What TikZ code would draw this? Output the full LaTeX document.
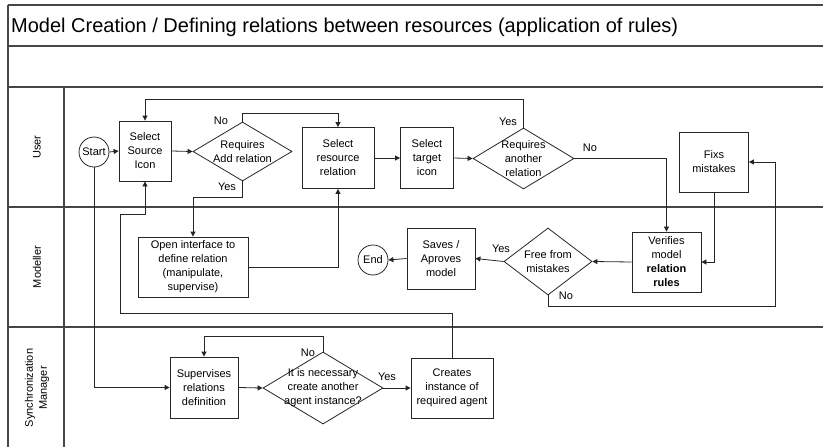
\documentclass[tikz,border=0pt]{standalone}
\usepackage{fontspec}
\setmainfont{Liberation Sans}
\usetikzlibrary{arrows.meta,shapes.geometric}

\begin{document}
\begin{tikzpicture}[x=1pt,y=-1pt,
  font=\fontsize{11}{14}\selectfont,
  lane/.style={draw=black!72, line width=1.3pt},
  procbox/.style={draw=black!85, line width=0.8pt, rectangle, align=center, inner sep=0pt},
  decision/.style={draw=black!85, line width=0.8pt, diamond, inner sep=0pt},
  terminal/.style={draw=black!85, line width=0.8pt, circle, inner sep=0pt, minimum size=30pt},
  flow/.style={draw=black!85, line width=0.8pt, -{Triangle[length=5pt,width=5pt]}},
  tag/.style={inner sep=0pt},
  lanename/.style={rotate=90, align=center, inner sep=0pt}
]
\useasboundingbox (0,0) rectangle (823,447);

% swimlane frame
\draw[lane] (8,5) -- (823,5);
\draw[lane] (8,46) -- (823,46);
\draw[lane] (8,87) -- (823,87);
\draw[lane] (8,207) -- (823,207);
\draw[lane] (8,327) -- (823,327);
\draw[lane] (8,5) -- (8,447);
\draw[lane] (64,87) -- (64,447);

\node[anchor=west, inner sep=0pt, font=\fontsize{20}{24}\selectfont] (title) at (11,27)
  {Model Creation / Defining relations between resources (application of rules)};

\node[lanename] (lUser) at (37,147) {User};
\node[lanename] (lMod) at (37,267) {Modeller};
\node[lanename] (lSync) at (37,388) {Synchronization\\Manager};

% User lane
\node[terminal] (start) at (94,152) {Start};
\node[procbox, minimum width=52pt, minimum height=60pt] (src) at (145,151) {Select\\Source\\Icon};
\node[decision, minimum width=99pt, minimum height=59pt,
  label={[align=center]center:Requires\\Add relation}] (req) at (242.5,151.5) {};
\node[procbox, minimum width=72pt, minimum height=61pt] (res) at (338,158) {Select\\resource\\relation};
\node[procbox, minimum width=53pt, minimum height=61pt] (tgt) at (427,158) {Select\\target\\icon};
\node[decision, minimum width=101pt, minimum height=61pt,
  label={[align=center]center:Requires\\another\\relation}] (ano) at (523.5,158.5) {};
\node[procbox, minimum width=69pt, minimum height=60pt] (fix) at (714,162) {Fixs\\mistakes};

% Modeller lane
\node[procbox, minimum width=110pt, minimum height=60pt] (open) at (193,267)
  {Open interface to\\define relation\\(manipulate,\\supervise)};
\node[terminal] (end) at (373,260) {End};
\node[procbox, minimum width=68pt, minimum height=61pt] (save) at (441,258.5) {Saves /\\Aproves\\model};
\node[decision, minimum width=88pt, minimum height=67pt,
  label={[align=center]center:Free from\\mistakes}] (free) at (548,261.5) {};
\node[procbox, minimum width=69pt, minimum height=60pt] (ver) at (666.5,262)
  {Verifies\\model\\\textbf{relation}\\\textbf{rules}};

% Synchronization Manager lane
\node[procbox, minimum width=68pt, minimum height=61pt] (sup) at (204,387.5) {Supervises\\relations\\definition};
\node[decision, minimum width=120pt, minimum height=72pt,
  label={[align=center]center:It is necessary\\create another\\agent instance?}] (nec) at (323,388) {};
\node[procbox, minimum width=82pt, minimum height=60pt] (cre) at (452,388) {Creates\\instance of\\required agent};

% routing points
\coordinate (loopR) at (775,306);
\coordinate (backA) at (120,313);
\coordinate (backB) at (120,214);

% connectors
\draw[flow] (start.east) -- (src.west);
\draw[flow] (start.south) |- (sup.west);
\draw[flow] (src.east) -- (req.west);
\draw[flow] (req.north) -- ++(0,-8) -| (res.north);
\draw[flow] (req.south) -- ++(0,16) -| (open.north);
\draw[flow] (open.east) -| (res.south);
\draw[flow] (res.east) -- (tgt.west);
\draw[flow] (tgt.east) -- (ano.west);
\draw[flow] (ano.north) -- ++(0,-28) -| (src.north);
\draw[flow] (ano.east) -| (ver.north);
\draw[flow] (fix.south) |- (ver.east);
\draw[flow] (ver.west) -- (free.east);
\draw[flow] (free.west) -- (save.east);
\draw[flow] (save.west) -- (end.east);
\draw[flow] (free.south) |- (loopR) |- (fix.east);
\draw[flow] (cre.north) |- (backA) -- (backB) -| (src.south);
\draw[flow] (sup.east) -- (nec.west);
\draw[flow] (nec.north) -- ++(0,-15) -| (sup.north);
\draw[flow] (nec.east) -- (cre.west);

% branch labels
\node[tag] (reqNo) at (221,121) {No};
\node[tag] (reqYes) at (227,187) {Yes};
\node[tag] (anoYes) at (508,122) {Yes};
\node[tag] (anoNo) at (590,148) {No};
\node[tag] (freeYes) at (501,249) {Yes};
\node[tag] (freeNo) at (566,296) {No};
\node[tag] (necNo) at (308,353) {No};
\node[tag] (necYes) at (387,377) {Yes};
\end{tikzpicture}
\end{document}
